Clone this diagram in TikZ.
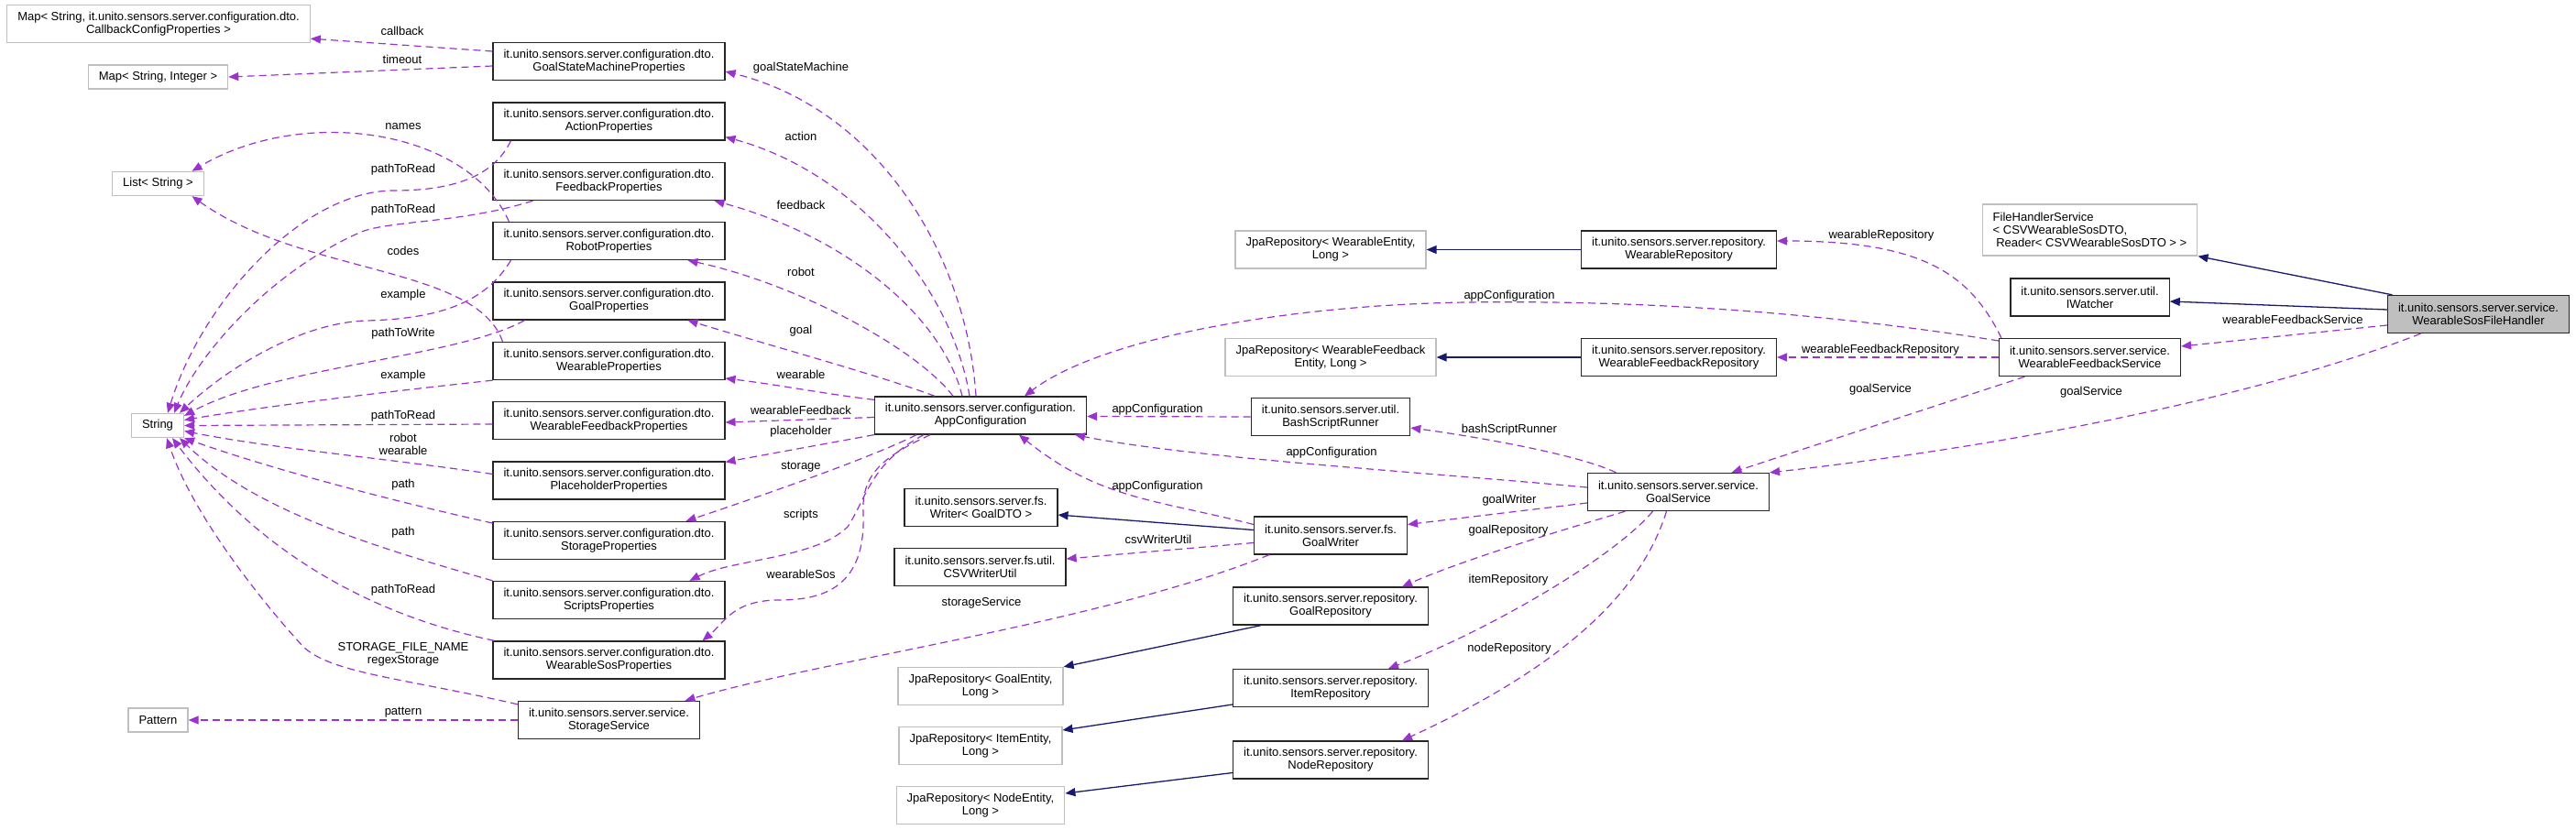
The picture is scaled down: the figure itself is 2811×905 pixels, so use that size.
\documentclass[tikz,border=0pt]{standalone}
\usepackage{fontspec}
\setmainfont{Liberation Sans}
\usepackage{tikz}
\usetikzlibrary{arrows.meta}
\definecolor{usecol}{HTML}{9A32CD}
\definecolor{inhcol}{HTML}{191970}
\definecolor{extcol}{HTML}{BFBFBF}
\newcommand{\uss}{it.unito.sensors.server.}
\newcommand{\dto}{it.unito.sensors.server.configuration.dto.}

\begin{document}
\begin{tikzpicture}[x=1pt, y=-1pt, font=\fontsize{13}{14}\selectfont,
  >={Triangle[length=11pt,width=9pt]},
  cls/.style={draw=black!85, line width=1.3pt, align=center, minimum height=41pt, inner xsep=11.5pt, inner ysep=0pt},
  ext/.style={cls, draw=extcol},
  one/.style={minimum height=26pt},
  uses/.style={->, usecol, line width=1.2pt, dash pattern=on 8pt off 5pt},
  inh/.style={->, inhcol, line width=1.3pt}]
  \useasboundingbox (0,0) rectangle (2811,905);
  \node[ext] (cbmap) at (173,26) {Map< String, \dto\\CallbackConfigProperties >};
  \node[ext, one] (intmap) at (172.5,84) {Map< String, Integer >};
  \node[ext, one] (liststr) at (172.5,200.5) {List< String >};
  \node[ext, one] (str) at (172,464.5) {String};
  \node[ext, one] (pattern) at (172.5,786) {Pattern};
  \node[cls] (gsm) at (664.5,67) {\dto\\GoalStateMachineProperties};
  \node[cls] (action) at (664.5,132.5) {\dto\\ActionProperties};
  \node[cls] (feedback) at (664.5,198) {\dto\\FeedbackProperties};
  \node[cls] (robot) at (664.5,263) {\dto\\RobotProperties};
  \node[cls] (goalp) at (664.5,328.5) {\dto\\GoalProperties};
  \node[cls] (wearp) at (664.5,394) {\dto\\WearableProperties};
  \node[cls] (wfbp) at (664.5,459) {\dto\\WearableFeedbackProperties};
  \node[cls] (placep) at (664.5,524.5) {\dto\\PlaceholderProperties};
  \node[cls] (storp) at (664.5,590) {\dto\\StorageProperties};
  \node[cls] (scrp) at (664.5,655) {\dto\\ScriptsProperties};
  \node[cls] (sosp) at (664.5,720.5) {\dto\\WearableSosProperties};
  \node[cls] (storsvc) at (664.5,786) {\uss service.\\StorageService};
  \node[cls] (app) at (1070,453.5) {\uss configuration.\\AppConfiguration};
  \node[cls] (writer) at (1070.5,554) {\uss fs.\\Writer< GoalDTO >};
  \node[cls] (csvutil) at (1069.5,619) {\uss fs.util.\\CSVWriterUtil};
  \node[ext] (jpagoal) at (1070,749) {JpaRepository< GoalEntity,\\Long >};
  \node[ext] (jpaitem) at (1070,814) {JpaRepository< ItemEntity,\\Long >};
  \node[ext] (jpanode) at (1070,879) {JpaRepository< NodeEntity,\\Long >};
  \node[ext] (jpawear) at (1452,272.5) {JpaRepository< WearableEntity,\\Long >};
  \node[ext] (jpawfb) at (1452,390) {JpaRepository< WearableFeedback\\Entity, Long >};
  \node[cls] (bash) at (1452,455) {\uss util.\\BashScriptRunner};
  \node[cls] (gwriter) at (1452,584.5) {\uss fs.\\GoalWriter};
  \node[cls] (goalrepo) at (1452,661.5) {\uss repository.\\GoalRepository};
  \node[cls] (itemrepo) at (1452,751) {\uss repository.\\ItemRepository};
  \node[cls] (noderepo) at (1452,829.5) {\uss repository.\\NodeRepository};
  \node[cls] (wearrepo) at (1832,272.5) {\uss repository.\\WearableRepository};
  \node[cls] (wfbrepo) at (1832,390) {\uss repository.\\WearableFeedbackRepository};
  \node[cls] (goalsvc) at (1831.5,537) {\uss service.\\GoalService};
  \node[ext, align=left, minimum height=56pt] (fhs) at (2280.5,251) {FileHandlerService\\< CSVWearableSosDTO,\\\hspace{3.6pt}Reader< CSVWearableSosDTO > >};
  \node[cls] (iwatch) at (2280.5,324.5) {\uss util.\\IWatcher};
  \node[cls] (wfbsvc) at (2280.5,390) {\uss service.\\WearableFeedbackService};
  \node[cls, fill=extcol] (sosfh) at (2704.5,343) {\uss service.\\WearableSosFileHandler};
  \draw[uses] ([yshift=11pt]gsm.west) -- ([yshift=5pt]cbmap.south east);
  \draw[uses] ([yshift=-5pt]gsm.west) -- (intmap.east);
  \draw[uses] ([xshift=18pt]robot.north west) .. controls (510,140) and (330,115) .. ([xshift=37pt]liststr.north);
  \draw[uses] ([xshift=11pt]wearp.north west) .. controls (520,290) and (330,300) .. ([xshift=37pt]liststr.south);
  \draw[uses] ([xshift=20pt]action.south west) .. controls (540,190) and (500,208) .. (430,208) .. controls (330,208) and (220,330) .. ([xshift=11pt]str.north);
  \draw[uses] ([xshift=-83pt]feedback.south) .. controls (500,245) and (420,240) .. (390,255) .. controls (290,300) and (215,390) .. ([xshift=18pt]str.north);
  \draw[uses] ([xshift=20pt]robot.south west) .. controls (530,330) and (480,348) .. (400,350) .. controls (330,352) and (250,400) .. ([xshift=24pt]str.north);
  \draw[uses] ([xshift=-92pt]goalp.south) .. controls (500,390) and (300,400) .. ([yshift=-3pt]str.north east);
  \draw[uses] (wearp.south west) .. controls (400,430) and (280,445) .. ([yshift=6pt]str.east);
  \draw[uses] ([yshift=-4pt]wfbp.west) -- (str.east);
  \draw[uses] ([yshift=7pt]placep.west) .. controls (420,500) and (300,490) .. ([yshift=-6pt]str.east);
  \draw[uses] ([yshift=19pt]storp.west) .. controls (420,545) and (290,510) .. (str.south east);
  \draw[uses] (scrp.north west) .. controls (420,600) and (280,560) .. ([xshift=24pt]str.south);
  \draw[uses] ([xshift=2pt]sosp.north west) .. controls (400,670) and (280,600) .. ([xshift=16pt]str.south);
  \draw[uses] ([yshift=-4pt]storsvc.north west) .. controls (440,740) and (360,735) .. (330,705) .. controls (280,650) and (210,560) .. ([xshift=10pt]str.south);
  \draw[uses] (storsvc.west) -- (pattern.east);
  \draw[uses] ([xshift=-5pt]app.north) .. controls (1055,280) and (960,120) .. ([yshift=-11pt]gsm.east);
  \draw[uses] ([xshift=-12pt]app.north) .. controls (1040,320) and (940,190) .. ([yshift=-17pt]action.east);
  \draw[uses] ([xshift=-20pt]app.north) .. controls (1030,350) and (930,260) .. ([xshift=115pt]feedback.south);
  \draw[uses] ([xshift=-30pt]app.north) .. controls (1000,380) and (870,310) .. ([xshift=86pt]robot.south);
  \draw[uses] ([xshift=-50pt]app.north) .. controls (960,410) and (850,380) .. ([xshift=86pt]goalp.south);
  \draw[uses] ([yshift=-4pt]app.north west) .. controls (900,430) and (850,420) .. ([yshift=-19pt]wearp.east);
  \draw[uses] ([yshift=-2pt]app.west) -- ([yshift=-2pt]wfbp.east);
  \draw[uses] (app.south west) -- ([yshift=-1pt]placep.north east);
  \draw[uses] ([xshift=-70pt]app.south) .. controls (950,500) and (820,545) .. ([xshift=84pt]storp.north);
  \draw[uses] ([xshift=-62pt]app.south) .. controls (950,505) and (945,545) .. (925,575) .. controls (890,610) and (800,610) .. ([xshift=88pt]scrp.north);
  \draw[uses] ([xshift=-55pt]app.south) .. controls (960,500) and (940,520) .. (942,560) .. controls (945,640) and (900,655) .. (850,655) .. controls (800,655) and (790,680) .. ([xshift=102pt]sosp.north);
  \draw[uses] (bash.west) -- ([yshift=-1pt]app.east);
  \draw[uses] ([yshift=18pt]wfbsvc.west) .. controls (1950,335) and (1750,328) .. (1600,330) .. controls (1400,333) and (1200,370) .. ([xshift=48pt]app.north);
  \draw[uses] ([yshift=5pt]goalsvc.west) .. controls (1550,515) and (1300,500) .. ([xshift=103pt]app.south);
  \draw[uses] ([yshift=12pt]gwriter.west) .. controls (1260,545) and (1200,545) .. ([xshift=42pt]app.south);
  \draw[uses] ([xshift=-68pt]goalsvc.north) .. controls (1720,495) and (1600,475) .. ([yshift=-12pt]bash.east);
  \draw[uses] ([yshift=-12pt]goalsvc.west) -- ([yshift=12pt]gwriter.east);
  \draw[uses] ([xshift=-58pt]goalsvc.south) .. controls (1700,580) and (1600,610) .. ([xshift=78pt]goalrepo.north);
  \draw[uses] ([xshift=-28pt]goalsvc.south) .. controls (1760,610) and (1620,690) .. ([xshift=63pt]itemrepo.north);
  \draw[uses] ([xshift=-13pt]goalsvc.south) .. controls (1790,650) and (1700,730) .. ([xshift=78pt]noderepo.north);
  \draw[inh] ([yshift=6pt]gwriter.west) -- ([yshift=-8pt]writer.east);
  \draw[uses] ([yshift=-8pt]gwriter.west) -- ([yshift=9pt]csvutil.east);
  \draw[uses] ([xshift=-67pt]gwriter.south) .. controls (1200,680) and (900,720) .. ([xshift=83pt]storsvc.north);
  \draw[inh] ([xshift=-76pt]goalrepo.south) -- (jpagoal.north east);
  \draw[inh] ([yshift=-18pt]itemrepo.west) -- ([yshift=17pt]jpaitem.east);
  \draw[inh] ([yshift=-14pt]noderepo.west) -- ([yshift=13pt]jpanode.east);
  \draw[inh] (wearrepo.west) -- (jpawear.east);
  \draw[inh] (wfbrepo.west) -- (jpawfb.east);
  \draw[uses] ([xshift=3pt]wfbsvc.north west) .. controls (2150,300) and (2100,263) .. ([yshift=9.5pt]wearrepo.east);
  \draw[uses] (wfbsvc.west) -- (wfbrepo.east);
  \draw[uses] ([xshift=-71pt]wfbsvc.south) -- ([xshift=58pt]goalsvc.north);
  \draw[inh] ([xshift=-94pt]sosfh.north) -- (fhs.south east);
  \draw[inh] ([yshift=5pt]sosfh.west) -- ([yshift=-4.5pt]iwatch.east);
  \draw[uses] ([yshift=-12pt]sosfh.west) -- ([yshift=12pt]wfbsvc.east);
  \draw[uses] ([xshift=-63pt]sosfh.south) .. controls (2500,420) and (2250,480) .. (goalsvc.north east);
  \node (lcallback) at (439,34) {callback};
  \node (ltimeout) at (439,65) {timeout};
  \node (lnames) at (440,138) {names};
  \node (lreadact) at (440,185) {pathToRead};
  \node (lreadfb) at (440,229) {pathToRead};
  \node (lcodes) at (440,274) {codes};
  \node (lexrobot) at (440,322) {example};
  \node (lwrite) at (440,364) {pathToWrite};
  \node (lexwear) at (440,410) {example};
  \node (lreadwfb) at (440,454) {pathToRead};
  \node[align=center] (lrobwear) at (440,485) {robot\\wearable};
  \node (lpathstor) at (440,529) {path};
  \node (lpathscr) at (440,581) {path};
  \node (lreadsos) at (440,644) {pathToRead};
  \node[align=center] (lstorname) at (440,714) {STORAGE\_FILE\_NAME\\regexStorage};
  \node (lpattern) at (440,778) {pattern};
  \node (lgsm) at (874,74) {goalStateMachine};
  \node (laction) at (874,149) {action};
  \node (lfeedback) at (874,224) {feedback};
  \node (lrobot) at (874,297) {robot};
  \node (lgoal) at (874,361) {goal};
  \node (lwearable) at (874,409) {wearable};
  \node (lwfb) at (874,448) {wearableFeedback};
  \node (lplace) at (874,471) {placeholder};
  \node (lstorage) at (874,510) {storage};
  \node (lscripts) at (874,562) {scripts};
  \node (lsos) at (874,627) {wearableSos};
  \node (lstorsvc) at (1071,658) {storageService};
  \node (lappbash) at (1263,447) {appConfiguration};
  \node (lappgw) at (1263,531) {appConfiguration};
  \node (lcsv) at (1264,589) {csvWriterUtil};
  \node (lappgs) at (1453,494) {appConfiguration};
  \node (lappwfb) at (1647,323) {appConfiguration};
  \node (lbash) at (1647,469) {bashScriptRunner};
  \node (lgwriter) at (1647,546) {goalWriter};
  \node (lgoalrepo) at (1646,579) {goalRepository};
  \node (litemrepo) at (1646,633) {itemRepository};
  \node (lnoderepo) at (1647,708) {nodeRepository};
  \node (lwearrepo) at (2053,257) {wearableRepository};
  \node (lwfbrepo) at (2052,382) {wearableFeedbackRepository};
  \node (lgsvcwfb) at (2052,425) {goalService};
  \node (lwfbsvc) at (2502,349) {wearableFeedbackService};
  \node (lgsvcsos) at (2282,428) {goalService};
\end{tikzpicture}
\end{document}
